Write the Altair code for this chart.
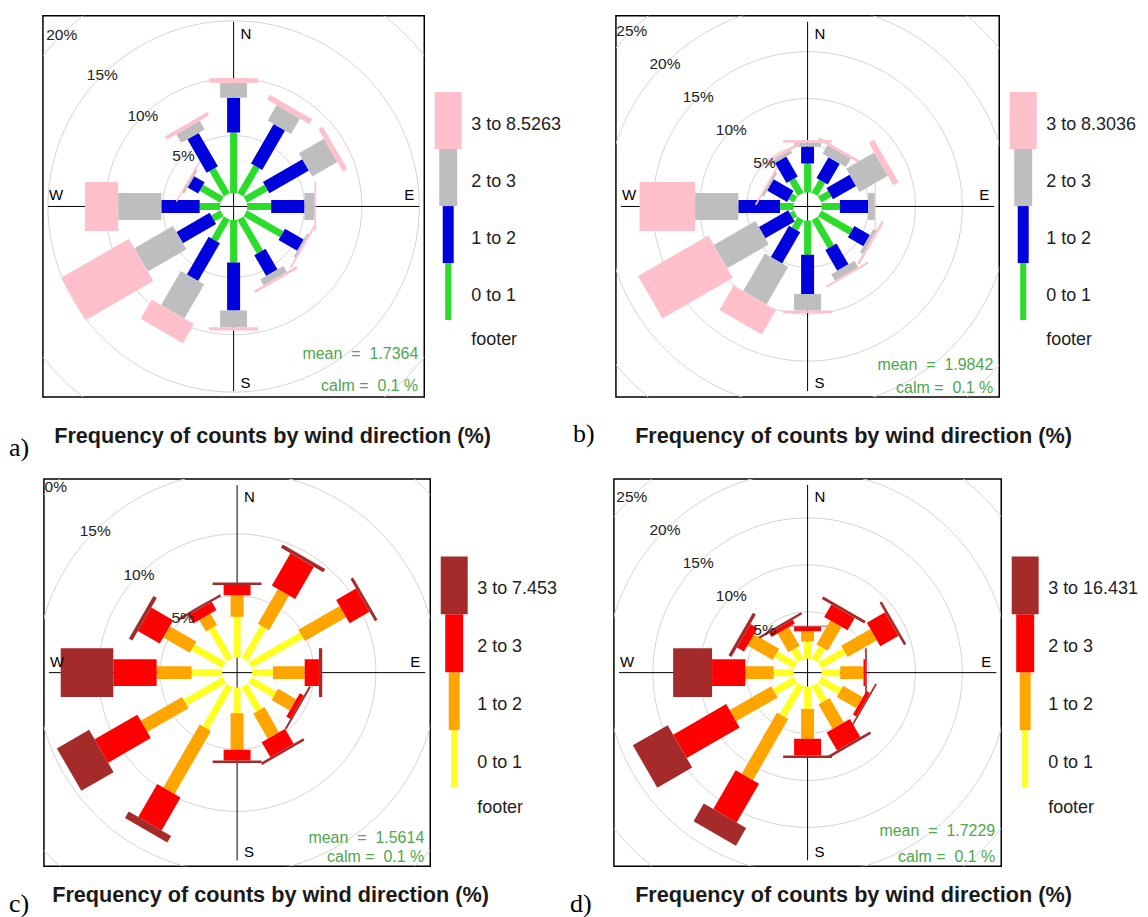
import altair as alt
import pandas as pd

# ---------------- data ----------------
DIRS = [0, 30, 60, 90, 120, 150, 180, 210, 240, 270, 300, 330]

# panel a  (% of counts per speed bin and direction)
A_BIN1 = [5.26, 2.83, 2.10, 2.10, 3.67, 3.41, 3.70, 2.19, 0.91, 1.78, 2.07, 2.54]
A_BIN2 = [3.04, 3.97, 3.97, 2.90, 1.88, 2.08, 4.20, 3.80, 3.34, 3.34, 1.05, 3.36]
A_BIN3 = [1.31, 1.56, 2.52, 0.87, 0.17, 0.58, 1.45, 3.44, 3.88, 3.76, 0.17, 0.87]
A_BIN4 = [0.38, 0.47, 0.44, 0.14, 0.15, 0.23, 0.29, 1.92, 6.81, 2.90, 0.12, 0.32]
# panel b
B_BIN1 = [3.09, 1.60, 1.24, 1.95, 3.87, 3.48, 3.65, 1.28, 0.50, 1.45, 0.64, 1.81]
B_BIN2 = [1.80, 2.58, 2.84, 3.01, 1.91, 2.55, 4.19, 3.86, 3.61, 4.44, 2.45, 2.45]
B_BIN3 = [0.43, 1.07, 3.47, 0.71, 0.35, 0.78, 1.77, 4.61, 5.11, 4.61, 0.21, 0.35]
B_BIN4 = [0.28, 0.28, 0.64, 0.11, 0.25, 0.21, 0.25, 3.02, 8.65, 5.92, 0.18, 0.28]
# panel c
C_BIN1 = [3.31, 3.04, 4.81, 1.69, 2.31, 2.31, 2.07, 3.93, 3.63, 2.47, 2.90, 2.93]
C_BIN2 = [1.74, 3.25, 3.85, 2.56, 1.70, 2.34, 2.96, 5.88, 3.84, 2.82, 2.48, 1.08]
C_BIN3 = [0.81, 3.01, 1.85, 1.15, 0.37, 1.40, 0.86, 3.07, 3.98, 3.50, 2.04, 0.77]
C_BIN4 = [0.22, 0.30, 0.24, 0.27, 0.16, 0.21, 0.21, 0.61, 3.01, 4.25, 0.32, 0.19]
# panel d
D_BIN1 = [1.84, 1.60, 3.05, 1.99, 2.48, 2.02, 2.38, 3.83, 2.59, 2.13, 2.41, 1.42]
D_BIN2 = [1.07, 2.94, 3.58, 2.48, 2.45, 3.02, 3.19, 7.52, 5.11, 3.01, 3.09, 2.30]
D_BIN3 = [0.53, 1.52, 2.24, 0.18, 0.42, 2.23, 1.77, 4.78, 6.52, 3.55, 0.88, 0.46]
D_BIN4 = [0.07, 0.32, 0.28, 0.17, 0.18, 0.28, 0.28, 2.17, 4.29, 4.15, 0.36, 0.25]

LEG_A = ["0 to 1", "1 to 2", "2 to 3", "3 to 8.5263"]
LEG_B = ["0 to 1", "1 to 2", "2 to 3", "3 to 8.3036"]
LEG_C = ["0 to 1", "1 to 2", "2 to 3", "3 to 7.453"]
LEG_D = ["0 to 1", "1 to 2", "2 to 3", "3 to 16.431"]

MEANS = ["1.7364", "1.9842", "1.5614", "1.7229"]
CALM = "0.1"
RINGS_A = [5, 10, 15, 20]
RINGS_B = [5, 10, 15, 20, 25]
RINGS_C = [5, 10, 15, 20]
RINGS_D = [5, 10, 15, 20, 25]
TITLE = "Frequency of counts by wind direction (%)"

# ---------------- styles ----------------
SANS = "Liberation Sans"
SERIF = "Liberation Serif"
COL_AB = ["#2ADD2A", "#0000DD", "#BEBEBE", "#FFC0CB"]
COL_CD = ["#FFFF22", "#FFA500", "#FF0000", "#A52A2A"]
ROSE_W = [7, 13, 27, 49]
LEG_W = [6, 11, 18, 27]
TXT_GREEN = "#4FA64F"
NB = "\u00a0"

IND = dict(x="independent", y="independent", color="independent", size="independent")


def dummy():
    return alt.Chart(pd.DataFrame({"v": [0]}))


def rose(bins, colors, W, H, k, off_px, rings, mean, mean_dy, calm_dy):
    off = off_px / k
    hx, hy = W / 2 / k, H / 2 / k
    rows = []
    for i, d in enumerate(DIRS):
        cum = 0.0
        for b in range(4):
            v = bins[b][i]
            rows.append(dict(dir=d, bin=b, r0=off + cum, r1=off + cum + v))
            cum += v
    df = pd.DataFrame(rows)
    xs = alt.Scale(domain=[-hx, hx], nice=False, zero=False)
    ys = alt.Scale(domain=[-hy, hy], nice=False, zero=False)

    ring_df = pd.DataFrame([dict(ring=r, a=a) for r in rings for a in range(0, 361, 3)])
    circles = alt.Chart(ring_df).transform_calculate(
        x=f"({off}+datum.ring)*sin(datum.a*PI/180)",
        y=f"({off}+datum.ring)*cos(datum.a*PI/180)",
    ).mark_line(clip=True, color="#d4d4d4", strokeWidth=1).encode(
        x=alt.X("x:Q", scale=xs, axis=None),
        y=alt.Y("y:Q", scale=ys, axis=None),
        detail="ring:N",
        order="a:Q",
    )

    hline = dummy().mark_rule(color="black", strokeWidth=1).encode(
        x=alt.value(5), x2=alt.value(W - 5), y=alt.value(H / 2))
    vline = dummy().mark_rule(color="black", strokeWidth=1).encode(
        x=alt.value(W / 2), y=alt.value(6), y2=alt.value(H - 6))

    paddles = alt.Chart(df).transform_calculate(
        x0="datum.r0*sin(datum.dir*PI/180)",
        y0="datum.r0*cos(datum.dir*PI/180)",
        x1="datum.r1*sin(datum.dir*PI/180)",
        y1="datum.r1*cos(datum.dir*PI/180)",
    ).mark_rule(clip=True, strokeCap="butt").encode(
        x=alt.X("x0:Q", scale=xs, axis=None), x2="x1:Q",
        y=alt.Y("y0:Q", scale=ys, axis=None), y2="y1:Q",
        color=alt.Color("bin:N", scale=alt.Scale(domain=[0, 1, 2, 3], range=colors), legend=None),
        size=alt.Size("bin:Q", scale=alt.Scale(domain=[0, 1, 2, 3], range=ROSE_W, zero=False, nice=False),
                      legend=None),
    )

    lab_df = pd.DataFrame({"ring": rings})
    ring_labels = alt.Chart(lab_df).transform_calculate(
        x=f"-({off}+datum.ring)*0.7071",
        y=f"({off}+datum.ring)*0.7071",
        t="datum.ring + '%'",
    ).mark_text(clip=True, font=SANS, fontSize=15.5, color="#222", align="center", baseline="middle").encode(
        x=alt.X("x:Q", scale=xs, axis=None),
        y=alt.Y("y:Q", scale=ys, axis=None),
        text="t:N",
    )

    def lbl(t, x, y, align, baseline, size=15, color="black"):
        return dummy().mark_text(text=t, font=SANS, fontSize=size, color=color,
                                 align=align, baseline=baseline).encode(
            x=alt.value(x), y=alt.value(y))

    n = lbl("N", W / 2 + 7, 18, "left", "middle")
    s = lbl("S", W / 2 + 7, H - 14, "left", "middle")
    w = lbl("W", 6, H / 2 - 3, "left", "bottom")
    e = lbl("E", W - 10, H / 2 - 3, "right", "bottom")
    m = lbl(f"mean{NB}{NB}={NB}{NB}{mean}", W - 6, H - mean_dy, "right", "middle", 16, TXT_GREEN)
    c = lbl(f"calm{NB}={NB}{NB}{CALM}{NB}%", W - 6, H - calm_dy, "right", "middle", 16, TXT_GREEN)

    return alt.layer(circles, hline, vline, paddles, ring_labels, n, s, w, e, m, c).properties(
        width=W, height=H, view=alt.ViewBackground(stroke="black", strokeWidth=1.5))


def legend(labels, colors, Lw, H):
    df = pd.DataFrame({"bin": [0, 1, 2, 3], "label": labels})
    ys = alt.Scale(domain=[0, 4], range=[0.798 * H, 0.2 * H], nice=False, zero=False)
    bars = alt.Chart(df).transform_calculate(y1="datum.bin+1").mark_rule(strokeCap="butt").encode(
        x=alt.value(24),
        y=alt.Y("bin:Q", scale=ys, axis=None), y2="y1:Q",
        color=alt.Color("bin:N", scale=alt.Scale(domain=[0, 1, 2, 3], range=colors), legend=None),
        size=alt.Size("bin:Q", scale=alt.Scale(domain=[0, 1, 2, 3], range=LEG_W, zero=False, nice=False),
                      legend=None),
    )
    texts = alt.Chart(df).transform_calculate(ym="datum.bin+0.5").mark_text(
        align="left", baseline="middle", dy=4, font=SANS, fontSize=18, color="#222").encode(
        x=alt.value(47), y=alt.Y("ym:Q", scale=ys, axis=None), text="label:N")
    foot = dummy().mark_text(text="footer", align="left", baseline="middle", font=SANS,
                             fontSize=18, color="#222").encode(x=alt.value(47), y=alt.value(0.849 * H))
    return alt.layer(bars, texts, foot).properties(width=Lw, height=H)


def spacer(w, h):
    return dummy().mark_rule(opacity=0).encode(
        x=alt.value(2), y=alt.value(2), y2=alt.value(4)).properties(width=w, height=h)


def footer(h, items):
    layers = []
    for t, x, y, kind in items:
        if kind == "title":
            layers.append(dummy().mark_text(text=t, font=SANS, fontSize=21.7, fontWeight="bold",
                                            color="#1a1a1a", align="center", baseline="alphabetic")
                          .encode(x=alt.value(x), y=alt.value(y)))
        else:
            layers.append(dummy().mark_text(text=t, font=SERIF, fontSize=26, color="black",
                                            align="left", baseline="alphabetic")
                          .encode(x=alt.value(x), y=alt.value(y)))
    return alt.layer(*layers).properties(width=1132, height=h)


roseA = rose([A_BIN1, A_BIN2, A_BIN3, A_BIN4], COL_AB, 382, 382, 11.5, 13.5, RINGS_A, MEANS[0], 43, 11)
roseB = rose([B_BIN1, B_BIN2, B_BIN3, B_BIN4], COL_AB, 384, 382, 9.4, 14, RINGS_B, MEANS[1], 32, 9)
roseC = rose([C_BIN1, C_BIN2, C_BIN3, C_BIN4], COL_CD, 387, 388, 12.4, 15, RINGS_C, MEANS[2], 28, 9)
roseD = rose([D_BIN1, D_BIN2, D_BIN3, D_BIN4], COL_CD, 388, 388, 9.4, 14, RINGS_D, MEANS[3], 35, 9)

row1 = alt.hconcat(spacer(34, 382), roseA, legend(LEG_A, COL_AB, 192, 382),
                   roseB, legend(LEG_B, COL_AB, 140, 382), spacing=0, bounds="flush").resolve_scale(**IND)
row2 = alt.hconcat(spacer(35, 388), roseC, legend(LEG_C, COL_CD, 184, 388),
                   roseD, legend(LEG_D, COL_CD, 138, 388), spacing=0, bounds="flush").resolve_scale(**IND)

foot1 = footer(78, [("a)", 0, 57, "lab"), (TITLE, 264, 44, "title"),
                    ("b)", 565, 43, "lab"), (TITLE, 846, 44, "title")])
foot2 = footer(52, [("c)", 0, 44, "lab"), (TITLE, 262, 34, "title"),
                    ("d)", 562, 44, "lab"), (TITLE, 846, 34, "title")])

chart = alt.vconcat(row1, foot1, row2, foot2, spacing=0).resolve_scale(**IND).properties(
    padding={"top": 6, "left": 0, "right": 0, "bottom": 0}, background="white"
).configure_view(stroke="transparent")

chart.save("out.html", embed_options={"renderer": "svg", "actions": False})
